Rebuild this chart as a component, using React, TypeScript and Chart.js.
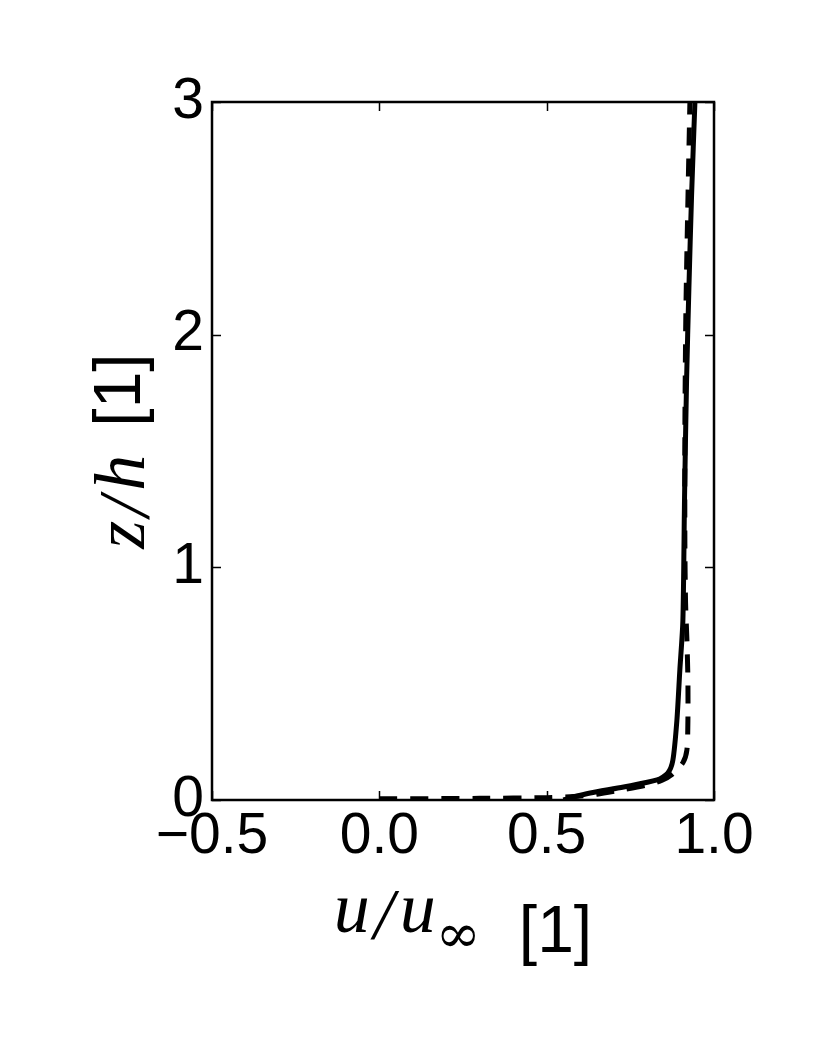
import { useEffect, useRef } from 'react';
import { Chart, registerables } from 'chart.js';

Chart.register(...registerables);

// Solid profile (u/u_inf vs z/h)
const solidU = [0.55, 0.58, 0.63, 0.73, 0.83, 0.862, 0.877, 0.889, 0.898, 0.907, 0.912, 0.918, 0.925, 0.933, 0.943];
const solidZ = [0.0, 0.013, 0.03, 0.056, 0.086, 0.116, 0.17, 0.34, 0.56, 0.77, 1.3, 1.8, 2.2, 2.6, 3.0];

// Dashed profile
const dashedU = [0.0, 0.3, 0.5, 0.58, 0.65, 0.73, 0.8, 0.845, 0.875, 0.907, 0.919, 0.922, 0.922, 0.919, 0.915, 0.913, 0.913, 0.916, 0.921, 0.928];
const dashedZ = [0.005, 0.007, 0.01, 0.015, 0.025, 0.045, 0.065, 0.085, 0.11, 0.16, 0.215, 0.34, 0.52, 0.69, 0.85, 1.1, 1.6, 2.1, 2.5, 3.0];

const xTickValues = [-0.5, 0.0, 0.5, 1.0];
const xTickLabels = ['\u22120.5', '0.0', '0.5', '1.0'];
const yTickValues = [0, 1, 2, 3];
const yTickLabels = ['0', '1', '2', '3'];

export default function App() {
  const ref = useRef<HTMLCanvasElement>(null);

  useEffect(() => {
    const canvas = ref.current;
    if (!canvas) return;

    const framePlugin = {
      id: 'frameAndTitles',
      afterDraw(chart: any) {
        const { ctx, chartArea: a, scales } = chart;
        ctx.save();
        ctx.strokeStyle = '#000';
        ctx.fillStyle = '#000';
        // inward ticks
        ctx.lineWidth = 1.5;
        const tl = 9;
        xTickValues.forEach((v) => {
          const px = Math.round(scales.x.getPixelForValue(v)) + 0.5;
          ctx.beginPath();
          ctx.moveTo(px, a.bottom);
          ctx.lineTo(px, a.bottom - tl);
          ctx.moveTo(px, a.top);
          ctx.lineTo(px, a.top + tl);
          ctx.stroke();
        });
        yTickValues.forEach((v) => {
          const py = Math.round(scales.y.getPixelForValue(v)) + 0.5;
          ctx.beginPath();
          ctx.moveTo(a.left, py);
          ctx.lineTo(a.left + tl, py);
          ctx.moveTo(a.right, py);
          ctx.lineTo(a.right - tl, py);
          ctx.stroke();
        });
        // frame
        ctx.lineWidth = 2.5;
        ctx.strokeRect(a.left, a.top, a.right - a.left, a.bottom - a.top);

        // x title: u/u_inf [1]
        const mathFont = 'italic 72px "Liberation Serif"';
        const subFont = '54px "DejaVu Serif"';
        const sansFont = '66px "Liberation Sans"';
        ctx.textBaseline = 'alphabetic';
        ctx.textAlign = 'left';
        ctx.font = mathFont;
        const wu = ctx.measureText('u').width;
        const ws = ctx.measureText('/').width;
        ctx.font = subFont;
        const winf = ctx.measureText('\u221E').width;
        ctx.font = sansFont;
        const wb = ctx.measureText('[1]').width;
        const g1 = 4, g2 = 6, g3 = 0, gap = 38;
        const totalX = wu + g1 + ws + g2 + wu + g3 + winf + gap + wb;
        const cx = (a.left + a.right) / 2;
        let x = cx - totalX / 2;
        const mathBase = a.bottom + 132;
        const base2 = a.bottom + 152;
        ctx.font = mathFont;
        ctx.fillText('u', x, mathBase); x += wu + g1;
        ctx.fillText('/', x, mathBase + 6); x += ws + g2;
        ctx.fillText('u', x, mathBase); x += wu + g3;
        ctx.font = subFont;
        ctx.fillText('\u221E', x, base2); x += winf + gap;
        ctx.font = sansFont;
        ctx.fillText('[1]', x, base2);

        // y title: z/h [1]
        ctx.font = mathFont;
        const wz = ctx.measureText('z').width;
        const wh = ctx.measureText('h').width;
        const totalY = wz + 4 + ws + 6 + wh + 28 + wb;
        const cy = (a.top + a.bottom) / 2;
        ctx.translate(144, cy);
        ctx.rotate(-Math.PI / 2);
        let t = -totalY / 2;
        ctx.font = mathFont;
        ctx.fillText('z', t, 0); t += wz + 4;
        ctx.fillText('/', t, 4); t += ws + 6;
        ctx.fillText('h', t, 0); t += wh + 28;
        ctx.font = sansFont;
        ctx.fillText('[1]', t, -4);
        ctx.restore();
      },
    };

    const chart = new Chart(canvas, {
      type: 'line',
      data: {
        datasets: [
          {
            label: 'solid',
            data: solidU.map((u, i) => ({ x: u, y: solidZ[i] })),
            borderColor: '#000',
            borderWidth: 5,
            pointRadius: 0,
            tension: 0.25,
            fill: false,
          },
          {
            label: 'dashed',
            data: dashedU.map((u, i) => ({ x: u, y: dashedZ[i] })),
            borderColor: '#000',
            borderWidth: 5,
            borderDash: [18, 13],
            pointRadius: 0,
            tension: 0.25,
            fill: false,
          },
        ],
      },
      options: {
        animation: false,
        responsive: false,
        parsing: false as any,
        layout: { padding: { top: 102, right: 116, left: 0, bottom: 0 } },
        plugins: {
          legend: { display: false },
          tooltip: { enabled: false },
        },
        scales: {
          x: {
            type: 'linear',
            min: -0.5,
            max: 1.0,
            afterBuildTicks: (s: any) => {
              s.ticks = xTickValues.map((v) => ({ value: v }));
            },
            afterFit: (s: any) => {
              s.height = 238;
            },
            grid: { display: false, drawTicks: false },
            border: { display: false },
            ticks: {
              padding: 3,
              color: '#000',
              maxRotation: 0,
              autoSkip: false,
              font: { family: '"Liberation Sans"', size: 57 },
              callback: (v: any) => {
                const i = xTickValues.findIndex((t) => Math.abs(t - Number(v)) < 1e-9);
                return i >= 0 ? xTickLabels[i] : '';
              },
            },
          },
          y: {
            type: 'linear',
            min: 0,
            max: 3,
            afterBuildTicks: (s: any) => {
              s.ticks = yTickValues.map((v) => ({ value: v }));
            },
            afterFit: (s: any) => {
              s.width = 212;
            },
            grid: { display: false, drawTicks: false },
            border: { display: false },
            ticks: {
              padding: 8,
              color: '#000',
              autoSkip: false,
              font: { family: '"Liberation Sans"', size: 57 },
              callback: (v: any) => {
                const i = yTickValues.findIndex((t) => Math.abs(t - Number(v)) < 1e-9);
                return i >= 0 ? yTickLabels[i] : '';
              },
            },
          },
        },
      },
      plugins: [framePlugin],
    });

    return () => chart.destroy();
  }, []);

  return (
    <div style={{ position: 'absolute', left: 0, top: 0, width: 830, height: 1038, background: '#fff' }}>
      <canvas ref={ref} width={830} height={1038} style={{ display: 'block', width: 830, height: 1038 }} />
    </div>
  );
}
